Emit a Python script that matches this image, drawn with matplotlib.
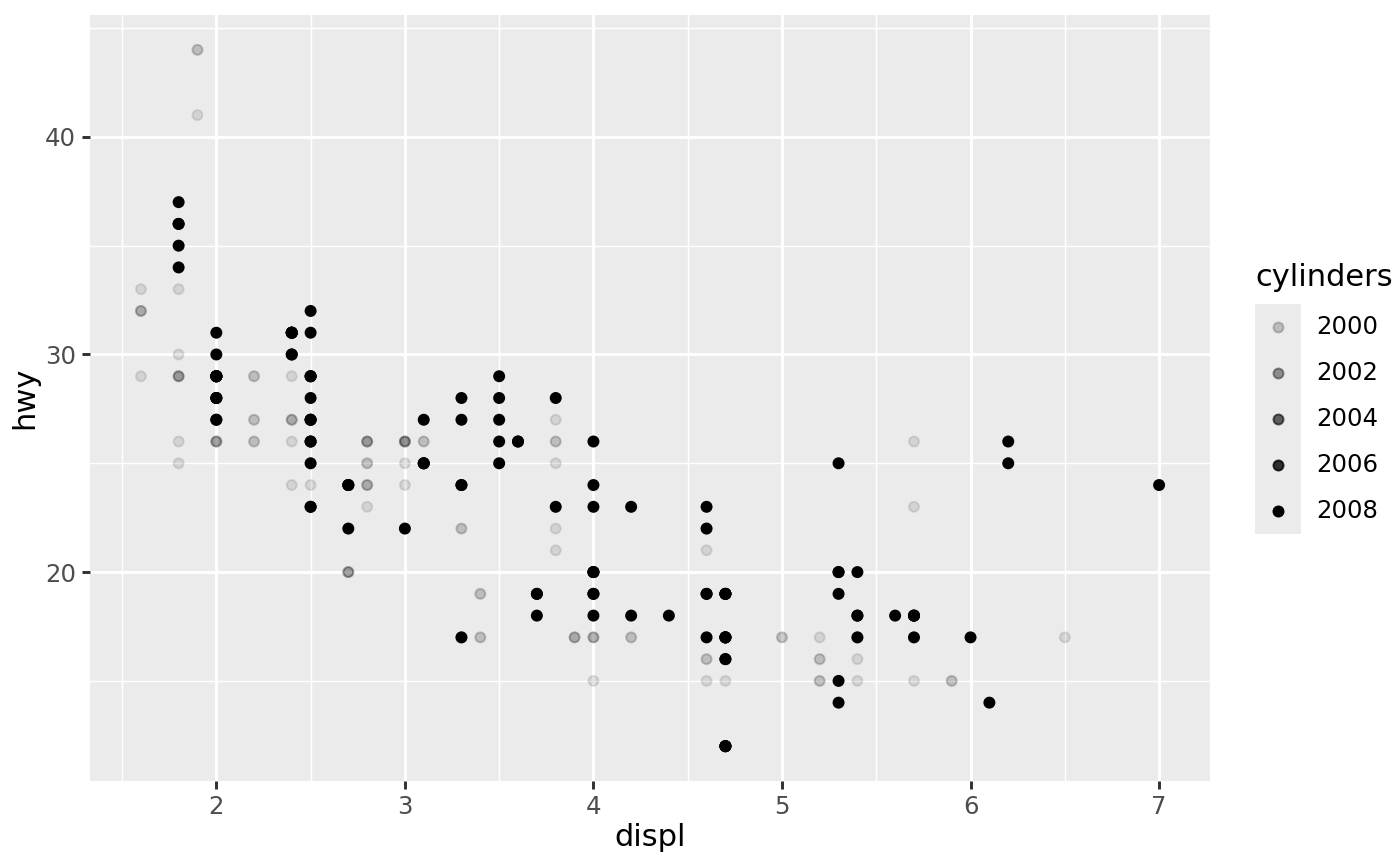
import numpy as np
import matplotlib
matplotlib.use("Agg")
import matplotlib.pyplot as plt

# engine displacement (l), highway mpg, model year  (grouped by model)
displ = [1.8, 1.8, 2.0, 2.0, 2.8, 2.8, 3.1,
         1.8, 1.8, 2.0, 2.0, 2.8, 2.8, 3.1, 3.1,
         2.8, 3.1, 4.2,
         5.3, 5.3, 5.3, 5.7, 6.0,
         5.7, 5.7, 6.2, 6.2, 7.0,
         5.3, 5.3, 5.7, 6.5,
         2.4, 2.4, 3.1, 3.5, 3.6,
         2.4, 3.0, 3.3, 3.3, 3.3, 3.3, 3.3, 3.8, 3.8, 3.8, 4.0,
         3.7, 3.7, 3.9, 3.9, 4.7, 4.7, 4.7, 5.2, 5.2,
         3.9, 4.7, 4.7, 4.7, 5.2, 5.7, 5.9,
         4.7, 4.7, 4.7, 4.7, 4.7, 4.7, 5.2, 5.2, 5.7, 5.9,
         4.6, 5.4, 5.4,
         4.0, 4.0, 4.0, 4.0, 4.6, 5.0,
         4.2, 4.2, 4.6, 4.6, 4.6, 5.4, 5.4,
         3.8, 3.8, 4.0, 4.0, 4.6, 4.6, 4.6, 4.6, 5.4,
         1.6, 1.6, 1.6, 1.6, 1.6, 1.8, 1.8, 1.8, 2.0,
         2.4, 2.4, 2.4, 2.4, 2.5, 2.5, 3.3,
         2.0, 2.0, 2.0, 2.0, 2.7, 2.7, 2.7,
         3.0, 3.7, 4.0, 4.7, 4.7, 4.7, 5.7, 6.1,
         4.0, 4.2, 4.4, 4.6,
         5.4, 5.4, 5.4,
         4.0, 4.0, 4.6, 5.0,
         2.4, 2.4, 2.5, 2.5, 3.5, 3.5,
         3.0, 3.0, 3.5,
         3.3, 3.3, 4.0, 5.6,
         3.1, 3.8, 3.8, 3.8, 5.3,
         2.5, 2.5, 2.5, 2.5, 2.5, 2.5,
         2.2, 2.2, 2.5, 2.5, 2.5, 2.5, 2.5, 2.5,
         2.7, 2.7, 3.4, 3.4, 4.0, 4.7,
         2.2, 2.2, 2.4, 2.4, 3.0, 3.0, 3.5,
         2.2, 2.2, 2.4, 2.4, 3.0, 3.0, 3.3,
         1.8, 1.8, 1.8, 1.8, 1.8,
         4.7, 5.7,
         2.7, 2.7, 2.7, 3.4, 3.4, 4.0, 4.0,
         2.0, 2.0, 2.0, 2.0, 2.8,
         1.9, 2.0, 2.0, 2.0, 2.0, 2.5, 2.5, 2.8, 2.8,
         1.9, 1.9, 2.0, 2.0, 2.5, 2.5,
         1.8, 1.8, 2.0, 2.0, 2.8, 2.8, 3.6]

hwy = [29, 29, 31, 30, 26, 26, 27,
       26, 25, 28, 27, 25, 25, 25, 25,
       24, 25, 23,
       20, 15, 20, 17, 17,
       26, 23, 26, 25, 24,
       19, 14, 15, 17,
       27, 30, 26, 29, 26,
       24, 24, 22, 22, 24, 24, 17, 22, 21, 23, 23,
       19, 18, 17, 17, 19, 19, 12, 17, 15,
       17, 17, 17, 17, 16, 18, 15,
       16, 12, 17, 17, 16, 12, 15, 16, 17, 15,
       17, 17, 18,
       17, 19, 17, 19, 19, 17,
       17, 17, 16, 16, 17, 15, 17,
       26, 25, 26, 24, 21, 22, 23, 22, 20,
       33, 32, 32, 29, 32, 34, 36, 36, 29,
       26, 27, 30, 31, 26, 26, 28,
       26, 29, 28, 27, 24, 24, 24,
       22, 19, 20, 17, 12, 19, 18, 14,
       15, 18, 18, 15,
       17, 16, 18,
       17, 19, 19, 17,
       27, 29, 31, 32, 27, 26,
       26, 25, 25,
       17, 17, 20, 18,
       26, 26, 27, 28, 25,
       25, 24, 27, 25, 26, 23,
       26, 26, 26, 26, 27, 23, 27, 26,
       20, 20, 19, 17, 20, 19,
       29, 27, 31, 31, 26, 26, 28,
       27, 29, 31, 31, 26, 26, 27,
       30, 33, 35, 37, 35,
       15, 18,
       20, 20, 22, 17, 19, 18, 20,
       29, 26, 29, 29, 24,
       44, 29, 26, 29, 29, 29, 29, 23, 24,
       44, 41, 29, 26, 28, 29,
       29, 29, 28, 29, 26, 26, 26]

year = [1999, 1999, 2008, 2008, 1999, 1999, 2008,
        1999, 1999, 2008, 2008, 1999, 1999, 2008, 2008,
        1999, 2008, 2008,
        2008, 2008, 2008, 1999, 2008,
        1999, 1999, 2008, 2008, 2008,
        2008, 2008, 1999, 1999,
        1999, 2008, 1999, 2008, 2008,
        1999, 1999, 1999, 1999, 2008, 2008, 2008, 1999, 1999, 2008, 2008,
        2008, 2008, 1999, 1999, 2008, 2008, 2008, 1999, 1999,
        1999, 1999, 2008, 2008, 1999, 2008, 1999,
        2008, 2008, 2008, 2008, 2008, 2008, 1999, 1999, 2008, 1999,
        1999, 1999, 2008,
        1999, 1999, 1999, 2008, 2008, 1999,
        1999, 1999, 1999, 1999, 2008, 1999, 2008,
        1999, 1999, 2008, 2008, 1999, 1999, 2008, 2008, 2008,
        1999, 1999, 1999, 1999, 1999, 2008, 2008, 2008, 2008,
        1999, 1999, 2008, 2008, 1999, 1999, 2008,
        1999, 1999, 2008, 2008, 2008, 2008, 2008,
        2008, 2008, 1999, 1999, 2008, 2008, 2008, 2008,
        1999, 2008, 2008, 1999,
        1999, 1999, 2008,
        1999, 2008, 2008, 1999,
        1999, 1999, 2008, 2008, 2008, 2008,
        1999, 1999, 2008,
        1999, 1999, 2008, 2008,
        1999, 1999, 1999, 2008, 2008,
        1999, 1999, 2008, 2008, 2008, 2008,
        1999, 1999, 1999, 1999, 2008, 2008, 2008, 2008,
        1999, 1999, 1999, 1999, 2008, 2008,
        1999, 1999, 2008, 2008, 1999, 1999, 2008,
        1999, 1999, 2008, 2008, 1999, 1999, 2008,
        1999, 1999, 1999, 2008, 2008,
        1999, 2008,
        1999, 1999, 2008, 1999, 1999, 2008, 2008,
        1999, 1999, 2008, 2008, 1999,
        1999, 1999, 1999, 2008, 2008, 2008, 2008, 1999, 1999,
        1999, 1999, 1999, 1999, 2008, 2008,
        1999, 1999, 2008, 2008, 1999, 1999, 2008]

legend_years = [2000, 2002, 2004, 2006, 2008]
x_ticks = [2, 3, 4, 5, 6, 7]
y_ticks = [20, 30, 40]


def year_alpha(y):
    # alpha range 0.1 .. 1 over the data range of year
    return 0.1 + 0.9 * (y - min(year)) / (max(year) - min(year))


W, H = 1400, 866
fig = plt.figure(figsize=(7, 4.33), dpi=200)
ax = fig.add_axes([90 / W, 1 - 781 / H, 1120 / W, 766 / H])
ax.set_facecolor("#EBEBEB")
for s in ax.spines.values():
    s.set_visible(False)

cols = np.zeros((len(year), 4))
cols[:, 3] = [year_alpha(y) for y in year]
ax.scatter(displ, hwy, s=13, c=cols, edgecolors=cols, linewidths=0.7, zorder=3)

xr = max(displ) - min(displ)
yr = max(hwy) - min(hwy)
ax.set_xlim(min(displ) - 0.05 * xr, max(displ) + 0.05 * xr)
ax.set_ylim(min(hwy) - 0.05 * yr, max(hwy) + 0.05 * yr)

ax.set_xticks(x_ticks)
ax.set_yticks(y_ticks)
ax.set_xticks([1.5, 2.5, 3.5, 4.5, 5.5, 6.5], minor=True)
ax.set_yticks([15, 25, 35, 45], minor=True)
ax.grid(which="major", color="white", linewidth=1.07, zorder=1)
ax.grid(which="minor", color="white", linewidth=0.53, zorder=1)
ax.set_axisbelow(True)
ax.tick_params(which="major", length=2.75, width=1.07, color="#333333",
               labelcolor="#4D4D4D", labelsize=8.8, pad=2.2)
ax.tick_params(which="minor", length=0)

ax.set_xlabel("displ", fontsize=11, labelpad=1.5)
ax.set_ylabel("hwy", fontsize=11, labelpad=2)

# legend drawn by hand, ggplot style
fig.text(1255 / W, 1 - 277 / H, "cylinders", fontsize=11, ha="left", va="center")
lax = fig.add_axes([1255 / W, 1 - 534 / H, 46 / W, 230 / H])
lax.set_facecolor("#EBEBEB")
lax.set_xlim(0, 1)
lax.set_ylim(0, len(legend_years))
lax.set_xticks([])
lax.set_yticks([])
for s in lax.spines.values():
    s.set_visible(False)
for i, yv in enumerate(legend_years):
    yy = len(legend_years) - i - 0.5
    c = (0, 0, 0, year_alpha(yv))
    lax.scatter([0.5], [yy], s=13, color=c, edgecolors=[c], linewidths=0.7)
    fig.text(1316 / W, 1 - (327 + 46 * i) / H, str(yv), fontsize=8.8,
             ha="left", va="center")

fig.savefig("out.png", dpi=200)
